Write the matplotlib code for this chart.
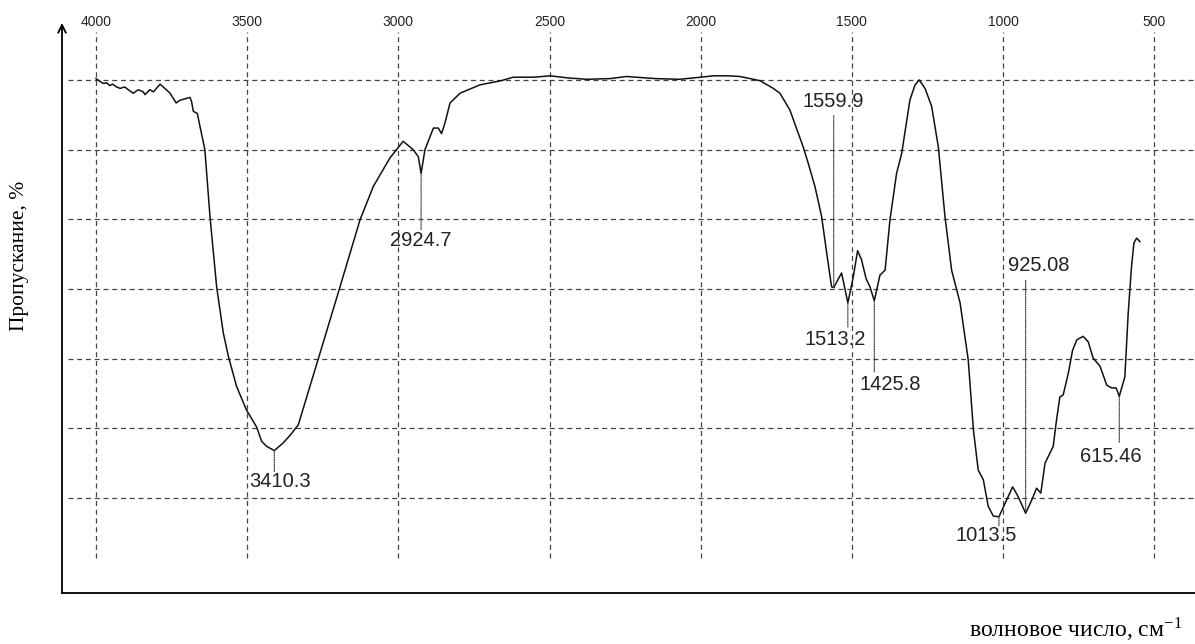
import numpy as np
import matplotlib
matplotlib.use("Agg")
import matplotlib.pyplot as plt

# ИК-спектр: волновое число (см-1) и пропускание (%)
wavenumber = [4000, 3990, 3976, 3965, 3955, 3945, 3932, 3920, 3905, 3890, 3877,
              3860, 3844, 3838, 3822, 3810, 3788, 3755, 3735, 3722, 3689, 3684,
              3678, 3665, 3656, 3640, 3623, 3601, 3579, 3562, 3535, 3502, 3469,
              3452, 3435, 3410.3, 3381, 3358, 3331, 3303, 3259, 3193, 3127, 3083,
              3028, 2984, 2951, 2934, 2924.7, 2912, 2884, 2868, 2857, 2846, 2829,
              2796, 2730, 2660, 2620, 2550, 2498, 2440, 2377, 2300, 2245, 2150,
              2070, 2000, 1958, 1910, 1870, 1804, 1760,
              1738, 1705, 1661, 1644, 1622, 1600, 1583, 1567, 1559.9, 1534, 1513.2,
              1495, 1481, 1468, 1453, 1440, 1425.8, 1407, 1390, 1374, 1352, 1335,
              1308, 1291, 1277, 1258, 1236, 1214, 1192, 1170, 1142, 1115, 1098,
              1082, 1065, 1049, 1032, 1013.5, 988, 968, 950, 925.08, 905, 889, 875,
              861, 834, 823, 812, 801, 784, 770, 756, 735, 718, 702, 679, 657, 641,
              626, 615.46, 597, 586, 575, 567, 558, 547]
transmittance = [100.2, 99.9, 99.5, 99.6, 99.2, 99.4, 99.0, 98.8, 99.0, 98.5, 98.1,
                 98.6, 98.3, 97.9, 98.6, 98.3, 99.4, 98.1, 96.7, 97.1, 97.5, 96.9,
                 95.5, 95.2, 93.3, 90.0, 80.4, 70.3, 63.7, 60.3, 56.0, 52.6, 50.2,
                 48.1, 47.4, 46.8, 47.9, 49.0, 50.5, 54.5, 60.8, 70.3, 79.9, 84.7,
                 88.8, 91.2, 90.0, 89.0, 86.6, 90.0, 93.1, 93.1, 92.3, 93.8, 96.7,
                 98.1, 99.3, 99.9, 100.4, 100.4, 100.6, 100.3, 100.1, 100.2, 100.5, 100.2,
                 100.1, 100.4, 100.6, 100.6, 100.5, 99.9, 98.8,
                 98.1, 95.7, 90.4, 88.0, 84.7, 80.4, 75.1, 70.3, 70.2, 72.3, 68.0,
                 71.8, 75.5, 74.2, 71.5, 70.3, 68.3, 72.0, 72.7, 79.9, 86.6, 89.5,
                 97.1, 99.3, 100.0, 98.8, 96.2, 90.4, 80.4, 72.7, 68.0, 59.8, 49.8,
                 44.0, 42.6, 38.8, 37.4, 37.3, 39.7, 41.6, 40.2, 37.8, 39.7, 41.4, 40.7,
                 45.0, 47.4, 51.2, 54.5, 54.8, 57.9, 61.2, 62.7, 63.2, 62.4, 60.1, 58.9, 56.2, 55.8,
                 55.8, 54.6, 57.4, 66.5, 73.2, 76.6, 77.3, 76.8]

peak_pos = [3410.3, 2924.7, 1559.9, 1513.2, 1425.8, 1013.5, 925.08, 615.46]
peak_T = [46.8, 86.6, 70.2, 68.0, 68.3, 37.3, 37.8, 54.6]
peak_labels = ["3410.3", "2924.7", "1559.9", "1513.2", "1425.8", "1013.5", "925.08", "615.46"]

# смещения подписей и выносных линий, в пикселях
label_dx = [6, 0, 0, -13, 16, -13, 13, -8]
label_dy = [-31, -67, 186, -37, -84, -19, 248, -60]
leader_dy = [-21, -56, 172, -24, -71, -9, 233, -46]

xticks = [4000, 3500, 3000, 2500, 2000, 1500, 1000, 500]
grid_levels = [100, 90, 80, 70, 60, 50, 40]

plt.rcParams['mathtext.fontset'] = 'stix'

fig = plt.figure(figsize=(11.95, 6.44), dpi=100)
ax = fig.add_axes([62 / 1195, 51 / 644, 1 - 62 / 1195, 570 / 644])
ax.set_xlim(4112.5, 365)
ax.set_ylim(26.36, 108.18)

grid_kw = dict(color='#444444', linestyle=(0, (4, 3)), linewidth=0.9)
ax.vlines(xticks, 31.4, 106.9, **grid_kw)
ax.hlines(grid_levels, 4092.6, 365, **grid_kw)

ax.plot(wavenumber, transmittance, color='#111111', linewidth=1.1)

for w, t, lab, dx, dy, ly in zip(peak_pos, peak_T, peak_labels, label_dx, label_dy, leader_dy):
    ax.annotate('', xy=(w, t), xytext=(0, ly), textcoords='offset pixels',
                arrowprops=dict(arrowstyle='-', linestyle=(0, (1, 1)), linewidth=0.8,
                                color='#333333', shrinkA=0, shrinkB=0))
    ax.annotate(lab, xy=(w, t), xytext=(dx, dy), textcoords='offset pixels',
                ha='center', va='center', fontsize=14.5, color='#222222',
                family='Liberation Sans')

# оси
for s in ['top', 'right', 'left']:
    ax.spines[s].set_visible(False)
ax.spines['bottom'].set_linewidth(1.3)
ax.annotate('', xy=(0, 1), xytext=(0, 0), xycoords='axes fraction',
            arrowprops=dict(arrowstyle='->', linewidth=1.3, color='black',
                            shrinkA=0, shrinkB=0, mutation_scale=14))

ax.set_yticks([])
ax.xaxis.tick_top()
ax.set_xticks(xticks)
ax.set_xticklabels([str(v) for v in xticks], family='Liberation Sans', fontsize=10,
                   color='#222222')
ax.tick_params(axis='x', length=0, pad=-4)

fig.text(20 / 1195, 1 - 256 / 644, 'Пропускание, %', rotation=90, ha='center',
         va='center', family='Liberation Serif', fontsize=15.5)
fig.text(1182 / 1195, 1 - 638 / 644, 'волновое число, см$^{\\mathdefault{-1}}$',
         ha='right', va='baseline', family='Liberation Serif', fontsize=17)

fig.savefig('out.png', dpi=100)
